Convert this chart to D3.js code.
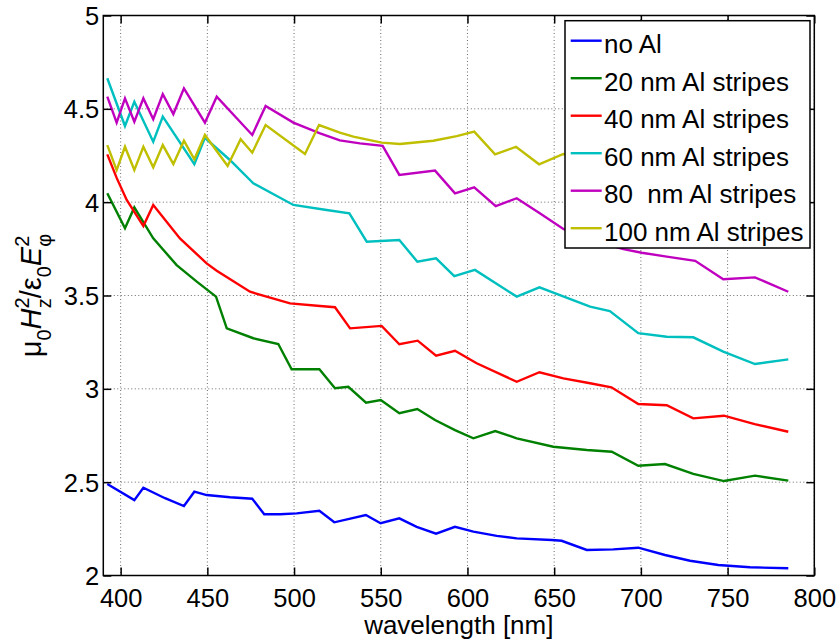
<!DOCTYPE html>
<html><head><meta charset="utf-8">
<script src="https://cdn.jsdelivr.net/npm/d3@7"></script>
<style>
body{margin:0;background:#fff}
text{font-family:"Liberation Sans",Arial,Helvetica,sans-serif}
</style>
</head><body>
<svg id="c" width="840" height="642"></svg>
<script>
// ---- data (wavelength nm, value) ----
const noAl = [[392.3,2.49],[407.9,2.404],[413.1,2.47],[425.6,2.414],[436.5,2.372],[442.5,2.449],[449.6,2.431],[463.1,2.419],[475.9,2.411],[482.8,2.328],[491.9,2.328],[501.5,2.333],[514.6,2.347],[523.2,2.285],[541.4,2.324],[549.9,2.28],[560.7,2.306],[570.7,2.261],[581.9,2.224],[592.8,2.261],[603.4,2.235],[616.9,2.212],[628.4,2.199],[648.6,2.19],[654.3,2.186],[668.8,2.137],[684.1,2.14],[698.5,2.149],[713.9,2.11],[728.3,2.079],[744.6,2.056],[762.9,2.044],[785,2.039]];
const al20 = [[392.3,4.048],[402.5,3.86],[407.9,3.972],[418.8,3.806],[432.3,3.663],[443.9,3.574],[455,3.494],[461.2,3.324],[476.5,3.271],[490.9,3.24],[498.6,3.105],[514.6,3.105],[523.6,3.003],[531.3,3.011],[541.5,2.926],[550,2.94],[560.7,2.869],[571.1,2.892],[581.3,2.833],[592.8,2.779],[603.4,2.735],[616,2.774],[628.4,2.735],[649.5,2.69],[668.8,2.672],[683.2,2.663],[698.5,2.588],[713.9,2.597],[730.2,2.544],[747.9,2.506],[765.8,2.535],[785,2.508]];
const al40 = [[392.3,4.256],[397.7,4.13],[403.5,4.012],[413.1,3.872],[418.8,3.985],[434.2,3.806],[449.6,3.672],[455.4,3.633],[474.6,3.52],[497.7,3.458],[515,3.444],[523.6,3.437],[532.3,3.324],[550.5,3.337],[560.7,3.239],[571.3,3.258],[581.9,3.178],[592.8,3.204],[605.3,3.137],[628.4,3.038],[641.5,3.089],[655.3,3.056],[670.7,3.03],[683,3.008],[698.5,2.919],[714.9,2.912],[730.2,2.842],[747.9,2.856],[765.6,2.811],[785,2.77]];
const al60 = [[392.3,4.664],[402.5,4.408],[407.9,4.538],[418.8,4.324],[424.3,4.458],[442.5,4.204],[448.6,4.345],[463,4.226],[476.5,4.101],[499.6,3.985],[518.8,3.958],[531.9,3.94],[541.9,3.788],[560.7,3.797],[571.1,3.681],[581.9,3.699],[592.4,3.604],[604.3,3.637],[628.4,3.494],[641.5,3.544],[670.7,3.44],[682.1,3.417],[698.5,3.298],[714.9,3.279],[730.2,3.276],[747.5,3.199],[765.8,3.133],[785,3.158]];
const al80 = [[392.3,4.565],[397.7,4.426],[402.5,4.556],[407.9,4.431],[413.1,4.556],[418.8,4.444],[424.3,4.579],[430.4,4.472],[436.5,4.61],[448.6,4.426],[455.4,4.565],[475.9,4.36],[483.6,4.515],[499.6,4.426],[515,4.369],[526.4,4.331],[538,4.315],[551.1,4.302],[560.7,4.146],[581.3,4.169],[592.8,4.047],[603.9,4.08],[616.3,3.979],[628.4,4.021],[641.7,3.94],[655.3,3.856],[670.7,3.80],[689.9,3.748],[700.5,3.729],[714.9,3.708],[731.3,3.686],[747.5,3.587],[765.8,3.597],[785,3.52]];
const al100 = [[392.3,4.306],[397.7,4.172],[402.5,4.297],[407.9,4.172],[413.1,4.297],[418.8,4.187],[424.3,4.306],[430.4,4.204],[436.5,4.329],[442.5,4.23],[448.6,4.36],[461.7,4.194],[469.2,4.337],[475.9,4.265],[483.6,4.413],[506.3,4.258],[514.4,4.413],[526.4,4.372],[534.2,4.351],[550.5,4.319],[561.1,4.312],[580.3,4.329],[593.8,4.354],[603.9,4.378],[615.9,4.256],[628,4.297],[641.3,4.203],[655.3,4.258],[670.7,4.24]];

const seriesNames = ["no Al","20 nm Al stripes","40 nm Al stripes","60 nm Al stripes","80  nm Al stripes","100 nm Al stripes"];
const seriesColors = ["#0000ff","#008000","#ff0000","#00bfbf","#bf00bf","#bfbf00"];
const seriesData = [noAl, al20, al40, al60, al80, al100];

const xTicks = [400,450,500,550,600,650,700,750,800];
const yTicks = [2,2.5,3,3.5,4,4.5,5];
const xDomain = [390,800];
const yDomain = [2,5];

// ---- layout ----
const L = 103.3, R = 814.3, T = 15.5, B = 575.5;
const svg = d3.select("#c");
const x = d3.scaleLinear().domain(xDomain).range([L,R]);
const y = d3.scaleLinear().domain(yDomain).range([B,T]);

// grid
const grid = svg.append("g").attr("stroke","#6a6a6a").attr("stroke-width",1).attr("stroke-dasharray","1,2.5");
grid.selectAll("line.gx").data(xTicks).join("line")
  .attr("x1",d=>x(d)).attr("x2",d=>x(d)).attr("y1",T).attr("y2",B);
grid.selectAll("line.gy").data(yTicks).join("line")
  .attr("y1",d=>y(d)).attr("y2",d=>y(d)).attr("x1",L).attr("x2",R);

// lines
const line = d3.line().x(d=>x(d[0])).y(d=>y(d[1]));
svg.append("g").selectAll("path").data(seriesData).join("path")
  .attr("d",line).attr("fill","none")
  .attr("stroke",(d,i)=>seriesColors[i]).attr("stroke-width",2.4)
  .attr("stroke-linejoin","miter").attr("stroke-miterlimit",4);

// axes
const fs = "25px";
svg.append("g").attr("transform",`translate(0,${B})`)
  .call(d3.axisBottom(x).tickValues(xTicks).tickSizeInner(-8).tickSizeOuter(0).tickPadding(0))
  .call(g=>g.select(".domain").remove())
  .call(g=>g.selectAll("line").attr("stroke","#000").attr("stroke-width",1.5))
  .call(g=>g.selectAll("text").attr("y",31.5).attr("dy",null).attr("fill","#000").style("font-size","25.5px").style("font-family",null));
svg.append("g").attr("transform",`translate(0,${T})`)
  .call(d3.axisTop(x).tickValues(xTicks).tickSizeInner(-8).tickSizeOuter(0).tickFormat(""))
  .call(g=>g.select(".domain").remove())
  .call(g=>g.selectAll("line").attr("stroke","#000").attr("stroke-width",1.5));
svg.append("g").attr("transform",`translate(${L},0)`)
  .call(d3.axisLeft(y).tickValues(yTicks).tickSizeInner(-8).tickSizeOuter(0).tickPadding(0).tickFormat(d3.format("")))
  .call(g=>g.select(".domain").remove())
  .call(g=>g.selectAll("line").attr("stroke","#000").attr("stroke-width",1.5))
  .call(g=>g.selectAll("text").attr("x",-4).attr("dy",9).attr("fill","#000").style("font-size","25.5px").style("font-family",null));
svg.append("g").attr("transform",`translate(${R},0)`)
  .call(d3.axisRight(y).tickValues(yTicks).tickSizeInner(-8).tickSizeOuter(0).tickFormat(""))
  .call(g=>g.select(".domain").remove())
  .call(g=>g.selectAll("line").attr("stroke","#000").attr("stroke-width",1.5));
svg.append("rect").attr("x",L).attr("y",T).attr("width",R-L).attr("height",B-T)
  .attr("fill","none").attr("stroke","#000").attr("stroke-width",1.5);

// x label
svg.append("text").attr("x",(L+R)/2).attr("y",634).attr("text-anchor","middle")
  .style("font-size","26px").text("wavelength [nm]");

// y label
const yl = svg.append("text").attr("transform",`translate(41,${(T+B)/2}) rotate(-90)`)
  .attr("text-anchor","middle").style("font-size","29px");
const parts = [
  {t:"μ"},
  {t:"0", s:20, dy:10},
  {t:"H", it:true, dy:-10},
  {t:"2", s:20, dy:-12},
  {t:"z", s:20, dy:22, dx:-11},
  {t:"/", dy:-10},
  {t:"ε"},
  {t:"0", s:20, dy:10},
  {t:"E", it:true, dy:-10},
  {t:"2", s:20, dy:-12},
  {t:"φ", s:20, dy:22, dx:-11}
];
parts.forEach(p=>{
  const ts = yl.append("tspan").text(p.t);
  if(p.s) ts.style("font-size",p.s+"px");
  if(p.it) ts.style("font-style","italic");
  if(p.dy) ts.attr("dy",p.dy);
  if(p.dx) ts.attr("dx",p.dx);
});

// legend
const lg = svg.append("g");
lg.append("rect").attr("x",565).attr("y",20.7).attr("width",245).attr("height",227.3)
  .attr("fill","#fff").attr("stroke","#000").attr("stroke-width",1.5);
const rowY = i => 40.7 + i*37.5;
lg.selectAll("line").data(seriesNames).join("line")
  .attr("x1",570.7).attr("x2",601.7).attr("y1",(d,i)=>rowY(i)).attr("y2",(d,i)=>rowY(i))
  .attr("stroke",(d,i)=>seriesColors[i]).attr("stroke-width",2.4);
lg.selectAll("text").data(seriesNames).join("text")
  .attr("x",604).attr("y",(d,i)=>rowY(i)+12.5).style("font-size","26px").style("white-space","pre")
  .text(d=>d);
</script>
</body></html>
